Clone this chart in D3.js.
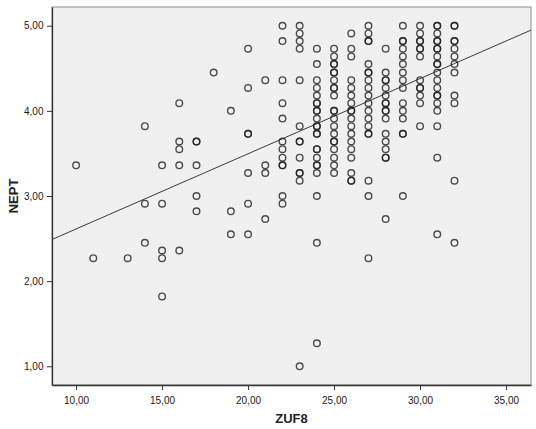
<!DOCTYPE html>
<html>
<head>
<meta charset="utf-8">
<script src="https://cdn.jsdelivr.net/npm/d3@7"></script>
<style>
  html, body { margin: 0; padding: 0; background: #fff; }
  svg { display: block; font-family: Arial, "Liberation Sans", sans-serif; }
  .tick text { font-size: 10px; fill: #1a1a1a; }
</style>
</head>
<body>
<div id="chart"></div>
<script>
// ZUF8 columns and the NEPT values found in each column
const zufValues = [10, 11, 13, 14, 15, 16, 17, 18, 19, 20, 21, 22, 23, 24, 25, 26, 27, 28, 29, 30, 31, 32];
const neptByZuf = [
  [3.36],
  [2.27],
  [2.27],
  [3.82, 2.91, 2.45],
  [3.36, 2.91, 2.36, 2.27, 1.82],
  [4.09, 3.64, 3.55, 3.36, 2.36],
  [3.64, 3.64, 3.36, 3.00, 2.82],
  [4.45],
  [4.00, 2.82, 2.55],
  [4.73, 4.27, 3.73, 3.73, 3.27, 2.91, 2.55],
  [4.36, 3.36, 3.27, 2.73],
  [5.00, 4.82, 4.36, 4.09, 3.91, 3.64, 3.55, 3.45, 3.36, 3.36, 3.00, 2.91],
  [5.00, 4.91, 4.82, 4.73, 4.36, 3.82, 3.64, 3.64, 3.45, 3.27, 3.27, 3.18, 1.00],
  [4.73, 4.55, 4.36, 4.27, 4.18, 4.09, 4.09, 4.00, 4.00, 3.91, 3.82, 3.82, 3.73, 3.73, 3.55, 3.55, 3.45, 3.36, 3.36, 3.27, 3.00, 2.45, 1.27],
  [4.73, 4.64, 4.55, 4.55, 4.45, 4.45, 4.36, 4.27, 4.27, 4.18, 4.00, 4.00, 3.91, 3.82, 3.73, 3.64, 3.64, 3.55, 3.45, 3.36, 3.27],
  [4.91, 4.73, 4.64, 4.36, 4.27, 4.18, 4.09, 4.00, 4.00, 3.91, 3.82, 3.73, 3.64, 3.55, 3.45, 3.27, 3.18, 3.18],
  [5.00, 4.91, 4.82, 4.82, 4.55, 4.45, 4.45, 4.36, 4.27, 4.18, 4.09, 4.00, 3.91, 3.82, 3.73, 3.73, 3.18, 3.00, 2.27],
  [4.73, 4.45, 4.36, 4.36, 4.27, 4.18, 4.09, 4.09, 4.00, 4.00, 3.91, 3.73, 3.64, 3.55, 3.45, 3.45, 2.73],
  [5.00, 4.82, 4.82, 4.73, 4.64, 4.55, 4.45, 4.36, 4.27, 4.09, 4.00, 3.91, 3.73, 3.73, 3.00],
  [5.00, 4.91, 4.82, 4.82, 4.73, 4.73, 4.64, 4.36, 4.27, 4.27, 4.18, 4.09, 3.82],
  [5.00, 5.00, 4.91, 4.82, 4.82, 4.73, 4.73, 4.64, 4.55, 4.55, 4.45, 4.36, 4.27, 4.18, 4.18, 4.09, 4.00, 3.82, 3.45, 2.55],
  [5.00, 5.00, 4.82, 4.82, 4.73, 4.64, 4.55, 4.45, 4.18, 4.09, 3.18, 2.45]
];

// fit line
const fitIntercept = 1.73;
const fitSlope = 0.0883;

const xTicks = [10, 15, 20, 25, 30, 35];
const yTicks = [1, 2, 3, 4, 5];
const xTitle = 'ZUF8';
const yTitle = 'NEPT';

const width = 536;
const height = 429;
const margin = { left: 52, top: 7, right: 5, bottom: 44 };

const points = [];
zufValues.forEach((z, i) => {
  neptByZuf[i].forEach((n) => points.push({ x: z, y: n }));
});

const svg = d3.select('#chart').append('svg')
  .attr('width', width)
  .attr('height', height);

const x = d3.scaleLinear()
  .domain([8.6, 36.45])
  .range([margin.left, width - margin.right]);
const y = d3.scaleLinear()
  .domain([0.78, 5.22])
  .range([height - margin.bottom, margin.top]);

const fmt = (d) => d3.format('.2f')(d).replace('.', ',');

// plot background and frame
svg.append('rect')
  .attr('x', x.range()[0])
  .attr('y', y.range()[1])
  .attr('width', x.range()[1] - x.range()[0])
  .attr('height', y.range()[0] - y.range()[1])
  .attr('fill', '#f0f0f0')
  .attr('stroke', '#8a8a8a')
  .attr('stroke-width', 1);

const xAxis = svg.append('g')
  .attr('transform', `translate(0,${y.range()[0]})`)
  .call(d3.axisBottom(x).tickValues(xTicks).tickFormat(fmt).tickSize(5).tickSizeOuter(0));
xAxis.selectAll('text').attr('dy', '1.05em');

const yAxis = svg.append('g')
  .attr('transform', `translate(${x.range()[0]},0)`)
  .call(d3.axisLeft(y).tickValues(yTicks).tickFormat(fmt).tickSize(5).tickSizeOuter(0));
yAxis.selectAll('text').attr('dx', '-0.05em');

svg.selectAll('.domain').attr('stroke', '#333').attr('stroke-width', 1.3);
svg.selectAll('.tick line').attr('stroke', '#333');

// regression line
const xd = x.domain();
svg.append('line')
  .attr('x1', x(xd[0]))
  .attr('y1', y(fitIntercept + fitSlope * xd[0]))
  .attr('x2', x(xd[1]))
  .attr('y2', y(fitIntercept + fitSlope * xd[1]))
  .attr('stroke', '#3c3c3c')
  .attr('stroke-width', 1);

// points
svg.append('g')
  .selectAll('circle')
  .data(points)
  .enter()
  .append('circle')
  .attr('cx', (d) => x(d.x))
  .attr('cy', (d) => y(d.y))
  .attr('r', 3.3)
  .attr('fill', 'none')
  .attr('stroke', '#222')
  .attr('stroke-opacity', 0.8)
  .attr('stroke-width', 1.4);

// axis titles
svg.append('text')
  .attr('x', (x.range()[0] + x.range()[1]) / 2)
  .attr('y', 423)
  .attr('text-anchor', 'middle')
  .attr('font-size', 13)
  .attr('font-weight', 'bold')
  .attr('fill', '#222')
  .text(xTitle);

svg.append('text')
  .attr('transform', `translate(18,${(y.range()[0] + y.range()[1]) / 2}) rotate(-90)`)
  .attr('text-anchor', 'middle')
  .attr('font-size', 13)
  .attr('font-weight', 'bold')
  .attr('fill', '#222')
  .text(yTitle);
</script>
</body>
</html>
